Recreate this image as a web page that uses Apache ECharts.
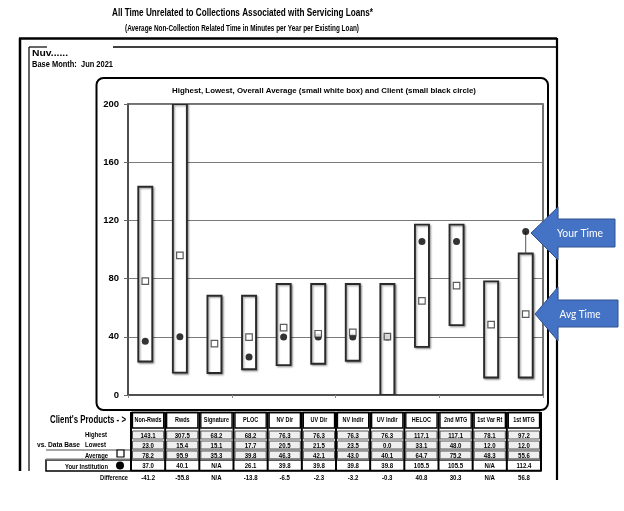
<!DOCTYPE html>
<html><head><meta charset="utf-8">
<script src="https://cdn.jsdelivr.net/npm/echarts@6/dist/echarts.min.js"></script>
<style>html,body{margin:0;padding:0;background:#fff}#c{width:624px;height:511px}</style>
</head><body><div id="c"></div>
<script>
const categories = ['Non-Rwds','Rwds','Signature','PLOC','NV Dir','UV Dir','NV Indir','UV Indir','HELOC','2nd MTG','1st Var Rt','1st MTG'];
const highest = [143.1, 307.5, 68.2, 68.2, 76.3, 76.3, 76.3, 76.3, 117.1, 117.1, 78.1, 97.2];
const lowest  = [23.0, 15.4, 15.1, 17.7, 20.5, 21.5, 23.5, 0.0, 33.1, 48.0, 12.0, 12.0];
const average = [78.2, 95.9, 35.3, 39.8, 46.3, 42.1, 43.0, 40.1, 64.7, 75.2, 48.3, 55.6];
const client  = [37.0, 40.1, null, 26.1, 39.8, 39.8, 39.8, 39.8, 105.5, 105.5, null, 112.4];
const difference = [-41.2, -55.8, null, -13.8, -6.5, -2.3, -3.2, -0.3, 40.8, 30.3, null, 56.8];
const yTicks = [0, 40, 80, 120, 160, 200];

const chart = echarts.init(document.getElementById('c'), null, {renderer:'canvas'});
const ctx = document.createElement('canvas').getContext('2d');
const FAM = '"Liberation Sans", Arial, sans-serif';
function tw(s, font){ ctx.font = font; return ctx.measureText(s).width; }
function T(s, x, y, size, o) {
  o = o || {};
  const font = (o.normal ? '' : 'bold ') + size + 'px ' + (o.fam || FAM);
  let sx = o.sx || 0.8;
  if (o.w) sx = o.w / tw(s, font);
  const al = o.align || 'center';
  return {type:'text', x:x, y:y, scaleX:sx, z:100,
    style:{text:s, font:font, fill:o.fill||'#000', align:al, textAlign:al, verticalAlign:'middle', textVerticalAlign:'middle'}};
}
function L(x1,y1,x2,y2,w,c){ return {type:'line', z:90, shape:{x1,y1,x2,y2}, style:{stroke:c||'#000', lineWidth:w||1}}; }
function R(x,y,w,h,fill,stroke,lw,z){ return {type:'rect', z:z||80, shape:{x,y,width:w,height:h}, style:{fill:fill||'none', stroke:stroke||'none', lineWidth:lw||1}}; }
const fmt = v => v == null ? 'N/A' : v.toFixed(1);

const g = [];
// titles
g.push(T('All Time Unrelated to Collections Associated with Servicing Loans*', 242.5, 13, 11, {w:261}));
g.push(T('(Average Non-Collection Related Time in Minutes per Year per Existing Loan)', 242, 29, 8.5, {w:234}));
// outer frame
g.push(L(19,38.5,557,38.5,2.5));
g.push(L(113,47,557,47,1.5));
g.push(L(29,47,47,47,1.2));
g.push(L(20,38,20,471,2.5));
g.push(L(29,47,29,471,1.2));
g.push(L(557,38,557,480,2.2));
g.push(T('Nuv......', 32, 54, 9, {w:36, align:'left'}));
g.push(T('Base Month:  Jun 2021', 32, 65, 8.5, {w:81, align:'left'}));
// rounded box
g.push({type:'rect', z:5, shape:{x:96.5,y:78,width:451.5,height:332,r:7}, style:{fill:'none', stroke:'#000', lineWidth:2}});
g.push(T('Highest, Lowest, Overall Average (small white box) and Client (small black circle)', 324, 91, 8, {w:304}));

// table
const tL = 131, tR = 541, cw = (tR - tL) / categories.length;
g.push(T("Client's Products - >", 126, 420.5, 10, {w:76, align:'right'}));
const rows = [
  {y:431, h:8, vals:highest},
  {y:441, h:8, vals:lowest},
  {y:451, h:8, vals:average}
];
g.push(L(46,450,tR,450,1.5,'#888'));
g.push(R(46,460,tR-46,11,'#fff','#000',1.5,82));
g.push(L(46,459.5,tR,459.5,2,'#777'));
categories.forEach((c,i) => {
  const x0 = tL + i*cw, cx = x0 + cw/2;
  g.push(R(x0+1.5, 412.5, cw-3, 15.5, '#fff', '#000', 1.3, 84));
  g.push(T(c, cx, 420.5, 7, {sx:0.78}));
  rows.forEach(r => {
    g.push(R(x0+1.5, r.y, cw-3, r.h, '#efefef', '#444', 0.9, 84));
    g.push(T(fmt(r.vals[i]), cx, r.y + r.h/2 + 0.5, 8, {sx:0.76}));
  });
  g.push(T(fmt(client[i]), cx, 466, 8, {sx:0.76}));
  g.push(T(fmt(difference[i]), cx, 477.5, 8, {sx:0.76}));
});
for (let i = 0; i <= categories.length; i++) {
  g.push(L(tL + i*cw, 412, tL + i*cw, 471, 2, '#000'));
}
g.push(L(tL,412.5,tR,412.5,1.5)); 
g.push(L(tL,470.5,tR,470.5,1.5));
g.push(T('Highest', 85, 435, 7.5, {w:22, align:'left'}));
g.push(T('vs. Data Base', 37, 445, 7.5, {w:43, align:'left'}));
g.push(T('Lowest', 85, 445, 7.5, {w:21, align:'left'}));
g.push(T('Average', 85, 455.5, 7.5, {w:23, align:'left'}));
g.push(R(117, 450, 7, 7, '#fff', '#000', 1.2, 95));
g.push(T('Your Institution', 108, 466.5, 7.5, {w:43, align:'right'}));
g.push({type:'circle', z:95, shape:{cx:120, cy:465.5, r:4}, style:{fill:'#000'}});
g.push(T('Difference', 128, 477.5, 7.5, {w:28, align:'right'}));

// callouts
const blue = '#4472C4', blueB = '#2F528F';
g.push({type:'polygon', z:120, shape:{points:[[531,233],[558,207],[558,219],[615,219],[615,247],[558,247],[558,260]]}, style:{fill:blue, stroke:blueB, lineWidth:1}});
g.push({type:'polygon', z:120, shape:{points:[[535,314],[558,287],[558,300],[618,300],[618,327],[558,327],[558,341]]}, style:{fill:blue, stroke:blueB, lineWidth:1}});
g.push(Object.assign(T('Your Time', 580, 233, 11, {normal:true, fam:'Lato, "Open Sans", sans-serif', fill:'#fff', w:46}), {z:130}));
g.push(Object.assign(T('Avg Time', 580, 314, 11, {normal:true, fam:'Lato, "Open Sans", sans-serif', fill:'#fff', w:41}), {z:130}));

const rangeData = categories.map((c,i) => [i, lowest[i], highest[i], client[i]]);

chart.setOption({
  animation:false,
  grid:{left:128, right:81, top:104, bottom:116, show:true, borderColor:'#444', borderWidth:1.5, backgroundColor:'#fff'},
  xAxis:{type:'category', data:categories, axisLabel:{show:false},
    axisTick:{show:true, length:3, lineStyle:{color:'#888'}}, axisLine:{lineStyle:{color:'#444', width:1.5}}, splitLine:{show:false}},
  yAxis:{type:'value', min:yTicks[0], max:yTicks[yTicks.length-1], interval:40,
    axisLabel:{color:'#000', fontWeight:'bold', fontSize:9.5, fontFamily:FAM, margin:9},
    axisTick:{show:true, length:4, lineStyle:{color:'#666'}}, axisLine:{show:true, lineStyle:{color:'#444', width:1.5}},
    splitLine:{lineStyle:{color:'#7a7a7a', width:1.2}}},
  graphic:{elements:g},
  series:[
    {type:'custom', z:2, clip:true, data:rangeData,
      renderItem:function(params, api){
        const i = api.value(0), lo = api.value(1), hi = api.value(2), cl = api.value(3);
        const top = Math.min(hi, 200);
        const pLo = api.coord([i, lo]), pHi = api.coord([i, top]);
        const w = api.size([1,0])[0]*0.405;
        const ch = [{type:'rect', shape:{x:pLo[0]-w/2, y:pHi[1], width:w, height:pLo[1]-pHi[1]},
          style:{fill:'#fff', stroke:'#2a2a2a', lineWidth:1.9, shadowColor:'rgba(0,0,0,0.35)', shadowBlur:2, shadowOffsetX:1.2, shadowOffsetY:1.2}}];
        if (cl != null && !isNaN(cl) && cl > hi) {
          const pC = api.coord([i, cl]);
          ch.push({type:'line', shape:{x1:pHi[0], y1:pHi[1], x2:pC[0], y2:pC[1]}, style:{stroke:'#555', lineWidth:1}});
        }
        return {type:'group', children:ch};
      }},
    {type:'scatter', z:3, data:client, symbol:'circle', symbolSize:7, itemStyle:{color:'#000'}, silent:true},
    {type:'scatter', z:4, data:average, symbol:'rect', symbolSize:6.5, itemStyle:{color:'#fff', borderColor:'#333', borderWidth:1.2}, silent:true}
  ]
});
</script></body></html>
